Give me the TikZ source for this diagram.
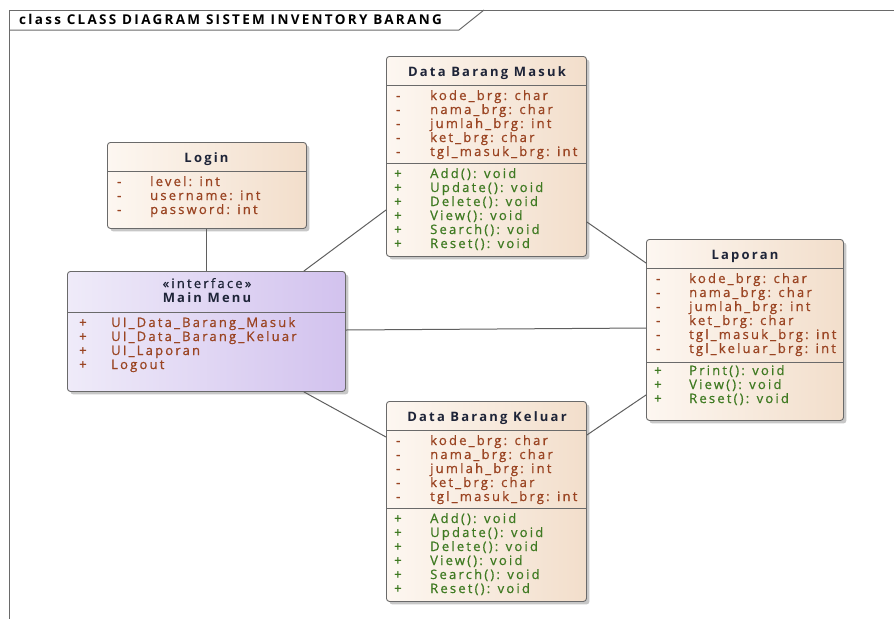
\documentclass[tikz,border=0pt]{standalone}
\usepackage{fontspec}
\setmainfont{Open Sans}[LetterSpace=17, UprightFeatures={FakeBold=0.8}]
\usetikzlibrary{calc,shadows}
\definecolor{attrcol}{HTML}{9A4422}
\definecolor{opcol}{HTML}{3F7A22}
\definecolor{headcol}{HTML}{1E2438}
\definecolor{edgecol}{HTML}{6A6A6A}
\definecolor{peachL}{HTML}{FDF7F1}
\definecolor{peachR}{HTML}{F2DECB}
\definecolor{lilacL}{HTML}{EFEBF9}
\definecolor{lilacR}{HTML}{D2C2EE}
\newcommand{\umlfont}{\fontsize{13}{14}\selectfont}
\tikzset{
  box/.style={draw=edgecol, line width=0.9pt, rounded corners=3pt, anchor=north west,
    inner sep=0pt, general shadow={shadow xshift=3pt, shadow yshift=-3pt, fill=black!22}},
  classbox/.style={box, left color=peachL, right color=peachR},
  ifacebox/.style={box, left color=lilacL, right color=lilacR},
  sepline/.style={draw=edgecol, line width=0.8pt},
  link/.style={draw=edgecol!90!black, line width=1pt},
  txt/.style={anchor=base west, inner sep=0pt, font=\umlfont},
  attr/.style={txt, text=attrcol},
  op/.style={txt, text=opcol},
  head/.style={anchor=base, inner sep=0pt, text=headcol, font=\umlfont\bfseries},
}
\begin{document}
\begin{tikzpicture}[x=1pt,y=-1pt]
\useasboundingbox (0,0) rectangle (894,619);

% diagram frame with its name tab
\draw[edgecol, line width=1pt] (894,10) -- (9,10) -- (9,619);
\draw[edgecol, line width=1pt] (9,30) -- (459,30) -- (484,10);
\node[anchor=base west, inner sep=0pt, font=\fontsize{13.5}{14}\selectfont\bfseries] (title) at (19,24)
  {class CLASS DIAGRAM SISTEM INVENTORY BARANG};

% class boxes
\node[classbox, minimum width=199pt, minimum height=86pt] (login) at (107,142) {};
\node[ifacebox, minimum width=278pt, minimum height=120pt] (mm) at (67,271) {};
\node[classbox, minimum width=200pt, minimum height=200pt] (dbm) at (386,56) {};
\node[classbox, minimum width=197pt, minimum height=181pt] (lap) at (646,239) {};
\node[classbox, minimum width=200pt, minimum height=200pt] (dbk) at (386,401) {};

% connectors
\draw[link] (login.south) -- (login.south |- mm.north);
\draw[link] ($(mm.north east)+(-42,0)$) -- ($(dbm.north west)+(0,154)$);
\draw[link] ($(mm.north east)+(0,59)$) -- ($(lap.north west)+(0,89)$);
\draw[link] ($(mm.south east)+(-42,0)$) -- ($(dbk.north west)+(0,36)$);
\draw[link] ($(dbm.north east)+(0,166)$) -- ($(lap.north west)+(0,24)$);
\draw[link] ($(dbk.north east)+(0,34)$) -- ($(lap.north west)+(0,156)$);

% Login
\path[sepline] (107,171) -- (306,171);
\node[head] at (206.5,162) {Login};
\foreach \y/\t in {186/level: int, 200/username: int, 214/password: int}{
  \node[attr] at (117,\y) {-};
  \node[attr] at (150,\y) {\t};
}

% Main Menu
\path[sepline] (67,312) -- (345,312);
\node[head, font=\umlfont] at (207,288) {«interface»};
\node[head] at (207,302) {Main Menu};
\foreach \y/\t in {327/UI\_Data\_Barang\_Masuk, 341/UI\_Data\_Barang\_Keluar, 355/UI\_Laporan, 369/Logout}{
  \node[attr] at (79,\y) {+};
  \node[attr] at (111,\y) {\t};
}

% Data Barang Masuk
\path[sepline] (386,85) -- (586,85);
\path[sepline] (386,163) -- (586,163);
\node[head] at (487,76) {Data Barang Masuk};
\foreach \y/\t in {100/kode\_brg: char, 114/nama\_brg: char, 128/jumlah\_brg: int, 142/ket\_brg: char, 156/tgl\_masuk\_brg: int}{
  \node[attr] at (396,\y) {-};
  \node[attr] at (430,\y) {\t};
}
\foreach \y/\t in {178/Add(): void, 192/Update(): void, 206/Delete(): void, 220/View(): void, 234/Search(): void, 248/Reset(): void}{
  \node[op] at (394,\y) {+};
  \node[op] at (430,\y) {\t};
}

% Laporan
\path[sepline] (646,268) -- (843,268);
\path[sepline] (646,362) -- (843,362);
\node[head] at (745,259) {Laporan};
\foreach \y/\t in {283/kode\_brg: char, 297/nama\_brg: char, 311/jumlah\_brg: int, 325/ket\_brg: char, 339/tgl\_masuk\_brg: int, 353/tgl\_keluar\_brg: int}{
  \node[attr] at (656,\y) {-};
  \node[attr] at (689,\y) {\t};
}
\foreach \y/\t in {375/Print(): void, 389/View(): void, 403/Reset(): void}{
  \node[op] at (654,\y) {+};
  \node[op] at (689,\y) {\t};
}

% Data Barang Keluar
\path[sepline] (386,430) -- (586,430);
\path[sepline] (386,508) -- (586,508);
\node[head] at (487,421) {Data Barang Keluar};
\foreach \y/\t in {445/kode\_brg: char, 459/nama\_brg: char, 473/jumlah\_brg: int, 487/ket\_brg: char, 501/tgl\_masuk\_brg: int}{
  \node[attr] at (396,\y) {-};
  \node[attr] at (430,\y) {\t};
}
\foreach \y/\t in {523/Add(): void, 537/Update(): void, 551/Delete(): void, 565/View(): void, 579/Search(): void, 593/Reset(): void}{
  \node[op] at (394,\y) {+};
  \node[op] at (430,\y) {\t};
}
\end{tikzpicture}
\end{document}
